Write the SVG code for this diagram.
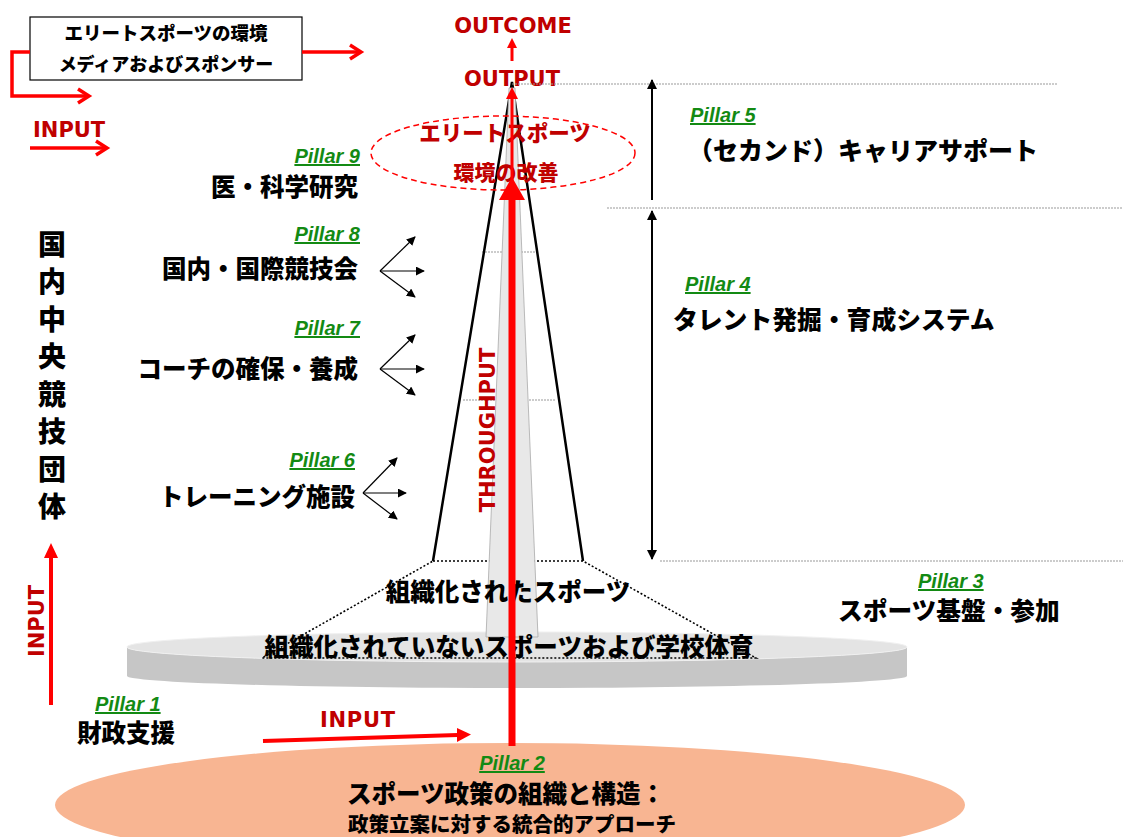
<svg xmlns="http://www.w3.org/2000/svg" width="1123" height="837" viewBox="0 0 1123 837">
<style>
.jp{font-family:"Noto Sans CJK JP","Noto Sans CJK SC",sans-serif;font-weight:900;fill:#000}
.pl{font-family:"Liberation Sans",Arial,sans-serif;font-weight:700;font-style:italic;font-size:20px;fill:#138a13;text-decoration:underline}
.en{font-family:"DejaVu Sans",sans-serif;font-weight:700;font-size:21px;fill:#c00000}
.rd{stroke:#ff0000;fill:none}
.gd{stroke:#999;stroke-width:1;stroke-dasharray:2 1;fill:none}
.fan{stroke:#000;stroke-width:1.2;fill:none}
</style>
<defs>
<marker id="ah" viewBox="0 0 10 10" refX="9" refY="5" markerWidth="9" markerHeight="9" markerUnits="userSpaceOnUse" orient="auto-start-reverse"><path d="M0,0 L10,5 L0,10 Z" fill="#000"/></marker>
<marker id="ahb" viewBox="0 0 10 10" refX="9" refY="5" markerWidth="11" markerHeight="10" markerUnits="userSpaceOnUse" orient="auto-start-reverse"><path d="M0,0 L10,5 L0,10 Z" fill="#000"/></marker>
</defs>

<g id="pillar2">
<ellipse cx="510" cy="805" rx="455" ry="62" fill="#f8b592"/>
<text class="pl" x="512" y="770" text-anchor="middle">Pillar 2</text>
<text class="jp" x="506" y="803" font-size="24.5" text-anchor="middle">スポーツ政策の組織と構造：</text>
<text class="jp" x="512" y="832" font-size="20.5" text-anchor="middle">政策立案に対する統合的アプローチ</text>
</g>

<g id="base-disk">
<path d="M127,647 A390,15 0 0 0 907,647 L907,676 A390,12 0 0 1 127,676 Z" fill="#c6c6c6"/>
<ellipse cx="517" cy="647" rx="390" ry="15" fill="#e4e4e4" stroke="#f0f0f0" stroke-width="1"/>
</g>

<g id="pyramid">
<line x1="482" y1="252" x2="535" y2="252" class="gd"/>
<line x1="463" y1="400" x2="556" y2="400" class="gd"/>
<path d="M433,561 L583,561 L756,658 L262,658 Z" fill="none" stroke="#000" stroke-width="1.6" stroke-dasharray="2 2"/>
<path d="M433,561 L512,82 L583,561" fill="none" stroke="#000" stroke-width="2.5"/>
<polygon points="509,88 515,88 538,637 486,637" fill="#e8e8e8" stroke="#aaa" stroke-width="0.8"/>
</g>

<g id="organized">
<text class="jp" x="508" y="601" font-size="24.5" text-anchor="middle">組織化されたスポーツ</text>
</g>
<g id="unorganized">
<text class="jp" x="509" y="656" font-size="24.5" text-anchor="middle">組織化されていないスポーツおよび学校体育</text>
</g>

<g id="elite-env">
<ellipse cx="503" cy="153" rx="132" ry="37" fill="none" stroke="#ff0000" stroke-width="1.5" stroke-dasharray="6 4"/>
<text class="jp" x="505" y="141" font-size="21.5" text-anchor="middle" style="fill:#c00000">エリートスポーツ</text>
<text class="jp" x="506" y="180" font-size="21" text-anchor="middle" style="fill:#c00000">環境の改善</text>
</g>

<g id="outcome">
<text class="en" x="513" y="33" text-anchor="middle">OUTCOME</text>
<text class="en" x="512" y="86" text-anchor="middle">OUTPUT</text>
</g>

<g id="throughput">
<text class="en" transform="translate(495,430) rotate(-90)" text-anchor="middle">THROUGHPUT</text>
</g>

<g id="top-box">
<rect x="30" y="17" width="272" height="63" fill="#fff" stroke="#000" stroke-width="1.2"/>
<text class="jp" x="166" y="40" font-size="18.5" text-anchor="middle">エリートスポーツの環境</text>
<text class="jp" x="166" y="71" font-size="18" text-anchor="middle">メディアおよびスポンサー</text>
</g>

<g id="input-top">
<text class="en" x="33" y="137">INPUT</text>
</g>
<g id="input-left">
<text class="en" transform="translate(44,621) rotate(-90)" text-anchor="middle">INPUT</text>
</g>
<g id="input-bottom">
<text class="en" x="320" y="727" textLength="75">INPUT</text>
</g>

<g id="nf">
<text class="jp" font-size="28" text-anchor="middle">
<tspan x="52" y="255">国</tspan><tspan x="52" y="292">内</tspan><tspan x="52" y="330">中</tspan><tspan x="52" y="367">央</tspan><tspan x="52" y="405">競</tspan><tspan x="52" y="442">技</tspan><tspan x="52" y="480">団</tspan><tspan x="52" y="517">体</tspan>
</text>
</g>

<g id="pillar1">
<text class="pl" x="95" y="711">Pillar 1</text>
<text class="jp" x="77" y="742" font-size="24.5">財政支援</text>
</g>
<g id="pillar3">
<text class="pl" x="918" y="588">Pillar 3</text>
<text class="jp" x="838" y="620" font-size="24.7">スポーツ基盤・参加</text>
</g>
<g id="pillar4">
<text class="pl" x="685" y="291">Pillar 4</text>
<text class="jp" x="673" y="329" font-size="24.8">タレント発掘・育成システム</text>
</g>
<g id="pillar5">
<text class="pl" x="690" y="122">Pillar 5</text>
<text class="jp" x="688" y="160" font-size="25">（セカンド）キャリアサポート</text>
</g>
<g id="pillar6">
<text class="pl" x="355" y="467" text-anchor="end">Pillar 6</text>
<text class="jp" x="355" y="506" font-size="24.5" text-anchor="end">トレーニング施設</text>
</g>
<g id="pillar7">
<text class="pl" x="360" y="335" text-anchor="end">Pillar 7</text>
<text class="jp" x="358" y="378" font-size="24.5" text-anchor="end">コーチの確保・養成</text>
</g>
<g id="pillar8">
<text class="pl" x="360" y="241" text-anchor="end">Pillar 8</text>
<text class="jp" x="358" y="278" font-size="24.5" text-anchor="end">国内・国際競技会</text>
</g>
<g id="pillar9">
<text class="pl" x="360" y="163" text-anchor="end">Pillar 9</text>
<text class="jp" x="358" y="196" font-size="24.5" text-anchor="end">医・科学研究</text>
</g>

<g id="connectors">
<line x1="512" y1="84" x2="1057" y2="84" class="gd"/>
<line x1="607" y1="208" x2="1123" y2="208" class="gd"/>
<line x1="660" y1="561" x2="1123" y2="561" class="gd"/>
<line x1="652" y1="200" x2="652" y2="80" stroke="#000" stroke-width="2" marker-end="url(#ahb)"/>
<line x1="652" y1="211" x2="652" y2="559" stroke="#000" stroke-width="2" marker-start="url(#ahb)" marker-end="url(#ahb)"/>
<line x1="380" y1="271" x2="415" y2="237" class="fan" marker-end="url(#ah)"/>
<line x1="380" y1="271" x2="424" y2="271" class="fan" marker-end="url(#ah)"/>
<line x1="380" y1="271" x2="415" y2="297" class="fan" marker-end="url(#ah)"/>
<line x1="380" y1="369" x2="415" y2="335" class="fan" marker-end="url(#ah)"/>
<line x1="380" y1="369" x2="424" y2="369" class="fan" marker-end="url(#ah)"/>
<line x1="380" y1="369" x2="415" y2="395" class="fan" marker-end="url(#ah)"/>
<line x1="363" y1="493" x2="397" y2="458" class="fan" marker-end="url(#ah)"/>
<line x1="363" y1="493" x2="406" y2="493" class="fan" marker-end="url(#ah)"/>
<line x1="363" y1="493" x2="397" y2="519" class="fan" marker-end="url(#ah)"/>
<path d="M302,52 L360,52" class="rd" stroke-width="3.5"/>
<path d="M350,45 L361,52 L350,59" class="rd" stroke-width="3.5"/>
<path d="M30,52 L12,52 L12,96 L88,96" class="rd" stroke-width="3.5"/>
<path d="M78,89 L89,96 L78,103" class="rd" stroke-width="3.5"/>
<path d="M30,148 L106,148" class="rd" stroke-width="3.5"/>
<path d="M96,141 L107,148 L96,155" class="rd" stroke-width="3.5"/>
<line x1="51" y1="705" x2="51" y2="556" stroke="#ff0000" stroke-width="4"/>
<polygon points="51,543 44,558 58,558" fill="#ff0000"/>
<line x1="263" y1="741" x2="458" y2="735" stroke="#ff0000" stroke-width="4"/>
<polygon points="471,734.6 457,728 457,742" fill="#ff0000"/>
<line x1="512" y1="61" x2="512" y2="46" stroke="#ff0000" stroke-width="3"/>
<polygon points="512,38 507,48 517,48" fill="#ff0000"/>
<line x1="512" y1="746" x2="512" y2="196" stroke="#ff0000" stroke-width="7"/>
<polygon points="512,177 499,200 525,200" fill="#ff0000"/>
<line x1="512" y1="182" x2="512" y2="98" stroke="#ff0000" stroke-width="3"/>
<polygon points="512,87 506,99 518,99" fill="#ff0000"/>
</g>
</svg>
